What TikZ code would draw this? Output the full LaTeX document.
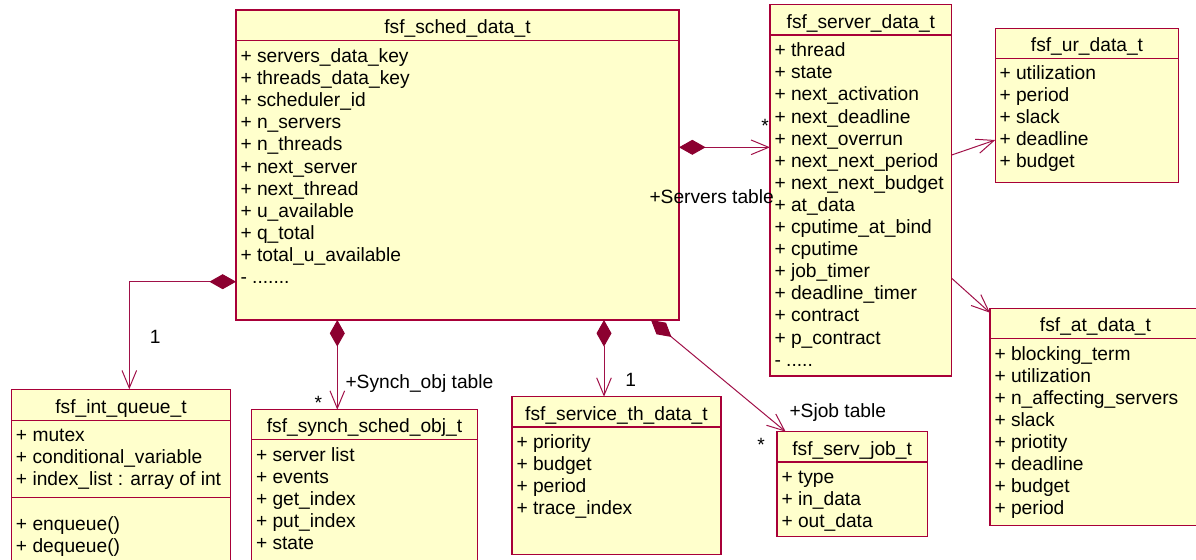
\documentclass[tikz,border=0pt]{standalone}
\usepackage{fontspec}
\setmainfont{Liberation Sans}
\usetikzlibrary{arrows.meta,fit}

\definecolor{classfill}{RGB}{255,255,204}
\definecolor{classedge}{RGB}{168,0,56}
\definecolor{linkcol}{RGB}{160,16,72}
\definecolor{diamondcol}{RGB}{140,0,48}

\tikzset{
  classbox/.style={draw=classedge, fill=classfill, line width=0.65pt, inner sep=0pt, outer sep=0pt},
  sepline/.style={draw=classedge, line width=0.65pt},
  umltext/.style={inner sep=0pt, outer sep=0pt, font=\fontsize{9.6pt}{11pt}\selectfont, text=black},
  titletext/.style={umltext, anchor=base},
  attrtext/.style={umltext, anchor=base west},
  multtext/.style={umltext, anchor=base},
  rolelabel/.style={umltext, anchor=base west},
  assoc/.style={draw=linkcol, line width=0.5pt, -{Straight Barb[length=8.8pt,width=7.3pt]}},
  comp/.style={draw=linkcol, line width=0.5pt,
    {Diamond[length=13.3pt,width=7.5pt,fill=diamondcol,color=diamondcol]}-{Straight Barb[length=8.8pt,width=7.3pt]}},
}

% class box: name, left, top, right, bottom, separator y, title
\newcommand\umlclass[7]{%
  \node[classbox, fit={(#2,#3) (#4,#5)}] (#1) {};
  \draw[sepline] (#1.west |- 0,#6) -- (#1.east |- 0,#6);
  \node[titletext] (#1-title) at ({(#2+#4)/2},{#6-7}) {#7};
}
% attribute lines: name, x, first baseline, list
\newcommand\umlattrs[4]{%
  \foreach \attrtxt [count=\idx] in {#4} {
    \node[attrtext] (#1-a\idx) at (#2,{#3+(\idx-1)*22.1}) {\attrtxt};
  }
}

\begin{document}
\begin{tikzpicture}[x=0.5pt,y=-0.5pt]
\clip (0,0) rectangle (1196,559);

% ---- classes ----
\umlclass{sched}{236}{10}{679}{320}{40.7}{fsf\_sched\_data\_t}
\umlattrs{sched}{240.5}{62.5}{{+ servers\_data\_key},{+ threads\_data\_key},{+ scheduler\_id},{+ n\_servers},{+ n\_threads},{+ next\_server},{+ next\_thread},{+ u\_available},{+ q\_total},{+ total\_u\_available}}
\node[attrtext] (sched-more) at (240.5,283.5) {- .......};

\umlclass{server}{770}{4.7}{951.7}{376}{35}{fsf\_server\_data\_t}
\umlattrs{server}{774.5}{56.7}{{+ thread},{+ state},{+ next\_activation},{+ next\_deadline},{+ next\_overrun},{+ next\_next\_period},{+ next\_next\_budget},{+ at\_data},{+ cputime\_at\_bind},{+ cputime},{+ job\_timer},{+ deadline\_timer},{+ contract},{+ p\_contract}}
\node[attrtext] (server-more) at (774.5,366.1) {- .....};

\umlclass{ur}{995.3}{28.3}{1178.7}{182.7}{58.3}{fsf\_ur\_data\_t}
\umlattrs{ur}{999.5}{79.5}{{+ utilization},{+ period},{+ slack},{+ deadline},{+ budget}}

\umlclass{at}{990}{308.3}{1201}{525.7}{338.3}{fsf\_at\_data\_t}
\umlattrs{at}{994.5}{360}{{+ blocking\_term},{+ utilization},{+ n\_affecting\_servers},{+ slack},{+ priotity},{+ deadline},{+ budget},{+ period}}

\umlclass{intq}{11.7}{389.3}{230.3}{580}{420.3}{fsf\_int\_queue\_t}
\umlattrs{intq}{16}{441}{{+ mutex},{+ conditional\_variable},{+ index\_list : array of int}}
\draw[sepline] (intq.west |- 0,497.7) -- (intq.east |- 0,497.7);
\node[attrtext] (intq-m1) at (16,530) {+ enqueue()};
\node[attrtext] (intq-m2) at (16,552) {+ dequeue()};

\umlclass{synch}{251.7}{409.7}{477.3}{580}{439.3}{fsf\_synch\_sched\_obj\_t}
\umlattrs{synch}{256}{461}{{+ server list},{+ events},{+ get\_index},{+ put\_index},{+ state}}

\umlclass{service}{512}{396.7}{721}{554.3}{427}{fsf\_service\_th\_data\_t}
\umlattrs{service}{516.5}{448.3}{{+ priority},{+ budget},{+ period},{+ trace\_index}}

\umlclass{servjob}{777}{431.7}{927.3}{536.7}{462}{fsf\_serv\_job\_t}
\umlattrs{servjob}{781.5}{483}{{+ type},{+ in\_data},{+ out\_data}}

% ---- compositions owned by fsf_sched_data_t ----
\draw[comp] (sched.west |- 0,281.7) -| (intq.north -| 129.3,0);
\draw[comp] (sched.south -| 337.3,0) -- (synch.north -| 337.3,0);
\draw[comp] (sched.south -| 604,0) -- (service.north -| 604,0);
\draw[comp] (sched.south -| 651,0) -- (servjob.north -| 785.7,0);
\draw[comp] (sched.east |- 0,147.3) -- (server.west |- 0,147.3);

% ---- associations from fsf_server_data_t ----
\draw[assoc] (server.east |- 0,155) -- (ur.west |- 0,140);
\draw[assoc] (server.east |- 0,278.3) -- (at.west |- 0,312.7);

% ---- multiplicities and role names ----
\node[multtext] (m-intq) at (155.3,343.3) {1};
\node[multtext] (m-synch) at (318.3,409.3) {*};
\node[rolelabel] (r-synch) at (345.5,388) {+Synch\_obj table};
\node[multtext] (m-service) at (630.7,386) {1};
\node[multtext] (m-servjob) at (761,451) {*};
\node[rolelabel] (r-servjob) at (789.5,417.5) {+Sjob table};
\node[multtext] (m-server) at (765,132.7) {*};
\node[rolelabel] (r-server) at (649.5,203) {+Servers table};

\end{tikzpicture}
\end{document}
